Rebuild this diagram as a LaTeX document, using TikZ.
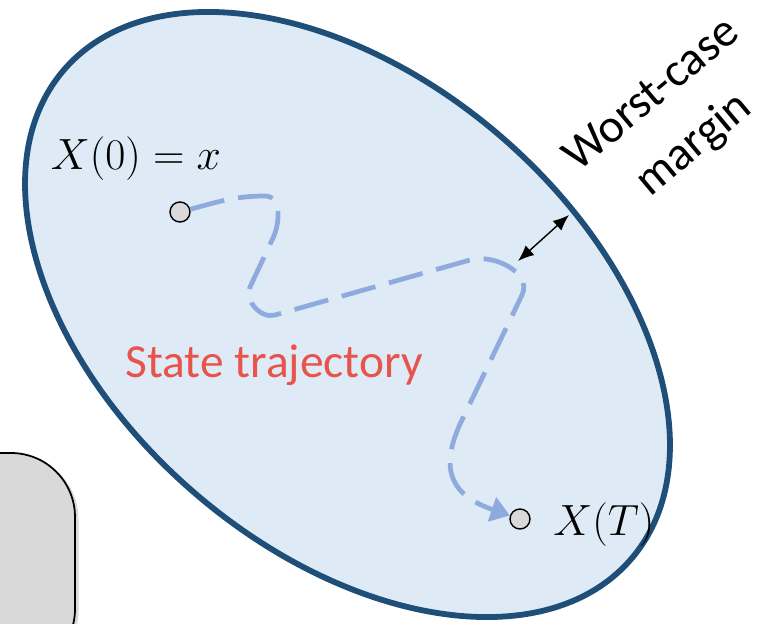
\documentclass[tikz,border=0pt]{standalone}
\usepackage{fontspec}
\usetikzlibrary{arrows.meta,shadows}
\newfontfamily\calibri{Carlito}
\newcommand{\labelsize}{\fontsize{27}{37}\selectfont}
\definecolor{regionfill}{HTML}{DEEBF7}
\definecolor{regionline}{HTML}{1F4E79}
\definecolor{trajblue}{HTML}{8FAADC}
\definecolor{labelred}{HTML}{E8534B}
\definecolor{pointgray}{HTML}{D9D9D9}
\begin{document}
\begin{tikzpicture}[
    point/.style={circle, draw=black, line width=0.8pt, fill=pointgray, minimum size=0.4cm, inner sep=0pt},
    traj/.style={trajblue, line width=2.7pt, dash pattern=on 0.7cm off 0.28cm},
    mathlabel/.style={font=\labelsize, inner sep=0pt}
]
    \useasboundingbox (0,0) rectangle (15.22,12.46);

    % ===== grey panel, lower left =====
    \filldraw[pointgray, draw=black, line width=1pt, rounded corners=1.28cm,
        drop shadow={shadow xshift=0.07cm, shadow yshift=-0.04cm, opacity=0.3}]
        (-3,-1) rectangle (1.5,3.4);

    % ===== safe region =====
    \def\cx{6.95}
    \def\cy{6.17}
    \filldraw[fill=regionfill, draw=regionline, line width=3.3pt, rotate around={-40.8:(\cx,\cy)}]
        (\cx,\cy) ellipse (7.49 and 4.70);

    % ===== start and end states =====
    \node[point] (x0) at (3.60, 8.22) {};
    \node[point] (xT) at (10.40, 2.08) {};
    \node[mathlabel, anchor=base] (x0lab) at (2.72, 9.08) {$X(0) = x$};
    \node[mathlabel, anchor=base west] (xTlab) at (11.06, 1.76) {$X(T)$};

    % waypoints of the trajectory
    \coordinate (ta) at (5.30, 8.54);
    \coordinate (tb) at (5.46, 7.70);
    \coordinate (tc) at (5.00, 6.72);
    \coordinate (td) at (5.50, 6.16);
    \coordinate (te) at (9.40, 7.26);
    \coordinate (tf) at (10.44, 6.56);
    \coordinate (tg) at (9.24, 4.06);

    \draw[traj, -{Triangle[length=0.38cm, width=0.5cm]}]
        (x0) to[out=15, in=180] (ta)
        to[out=0, in=65] (tb) -- (tc)
        to[out=245, in=196] (td) -- (te)
        to[out=16, in=64] (tf) -- (tg)
        to[out=244, in=161, looseness=1.4] (xT);

    \node[labelred, font=\calibri\labelsize, anchor=base] (trajlab) at (5.48, 4.92) {State trajectory};

    % ===== worst-case margin =====
    \coordinate (m1) at (10.36, 7.24);
    \coordinate (m2) at (11.38, 8.16);
    \draw[{Latex[length=0.32cm, width=0.26cm]}-{Latex[length=0.32cm, width=0.26cm]}, line width=0.8pt] (m1) -- (m2);
    \node[font=\calibri\labelsize, align=center, rotate=40] (marginlab) at (13.48, 10.04) {Worst-case\\margin};
\end{tikzpicture}
\end{document}
